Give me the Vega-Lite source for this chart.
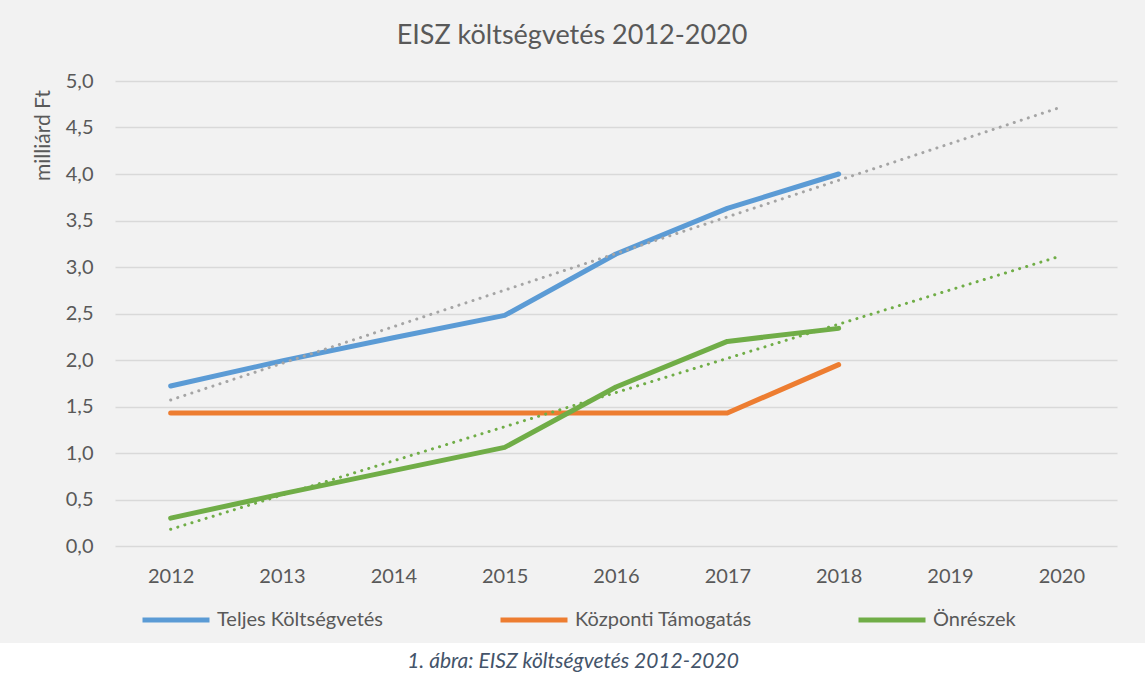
{
  "$schema": "https://vega.github.io/schema/vega-lite/v6.json",
  "background": "#f2f2f2",
  "autosize": {"type": "none"},
  "padding": {"left": 115, "right": 28, "top": 81, "bottom": 131},
  "width": 1002,
  "height": 465,
  "title": {"text": "EISZ költségvetés 2012-2020", "fontSize": 27, "font": "Lato", "fontWeight": "normal", "color": "#595959", "anchor": "middle", "offset": 21, "dx": -44},
  "config": {"view": {"stroke": null}, "font": "Lato"},
  "datasets": {
    "main": [
      {"year": "2012", "series": "Teljes Költségvetés", "value": 1.72},
      {"year": "2013", "series": "Teljes Költségvetés", "value": 1.99},
      {"year": "2014", "series": "Teljes Költségvetés", "value": 2.24},
      {"year": "2015", "series": "Teljes Költségvetés", "value": 2.48},
      {"year": "2016", "series": "Teljes Költségvetés", "value": 3.14},
      {"year": "2017", "series": "Teljes Költségvetés", "value": 3.63},
      {"year": "2018", "series": "Teljes Költségvetés", "value": 4.0},
      {"year": "2012", "series": "Központi Támogatás", "value": 1.43},
      {"year": "2013", "series": "Központi Támogatás", "value": 1.43},
      {"year": "2014", "series": "Központi Támogatás", "value": 1.43},
      {"year": "2015", "series": "Központi Támogatás", "value": 1.43},
      {"year": "2016", "series": "Központi Támogatás", "value": 1.43},
      {"year": "2017", "series": "Központi Támogatás", "value": 1.43},
      {"year": "2018", "series": "Központi Támogatás", "value": 1.95},
      {"year": "2012", "series": "Önrészek", "value": 0.3},
      {"year": "2013", "series": "Önrészek", "value": 0.56},
      {"year": "2014", "series": "Önrészek", "value": 0.81},
      {"year": "2015", "series": "Önrészek", "value": 1.06},
      {"year": "2016", "series": "Önrészek", "value": 1.71},
      {"year": "2017", "series": "Önrészek", "value": 2.2},
      {"year": "2018", "series": "Önrészek", "value": 2.34}
    ],
    "trend": [
      {"year": "2012", "trend": "Teljes trend", "value": 1.57},
      {"year": "2020", "trend": "Teljes trend", "value": 4.72},
      {"year": "2012", "trend": "Önrészek trend", "value": 0.18},
      {"year": "2020", "trend": "Önrészek trend", "value": 3.12}
    ]
  },
  "layer": [
    {
      "data": {"name": "main"},
      "mark": {"type": "line", "strokeWidth": 5, "strokeCap": "round", "strokeJoin": "round"},
      "encoding": {
        "x": {"field": "year", "type": "ordinal",
          "scale": {"type": "point", "padding": 0.5, "domain": ["2012","2013","2014","2015","2016","2017","2018","2019","2020"]},
          "axis": {"title": null, "labelAngle": 0, "labelFontSize": 20, "labelColor": "#595959", "labelPadding": 20, "ticks": false, "domain": false, "grid": false}},
        "y": {"field": "value", "type": "quantitative",
          "scale": {"domain": [0, 5]},
          "axis": {"title": "milliárd Ft", "titleFontSize": 21, "titleFontWeight": "normal", "titleColor": "#595959", "titleAnchor": "middle", "titleY": 54, "titlePadding": 12,
            "values": [0, 0.5, 1, 1.5, 2, 2.5, 3, 3.5, 4, 4.5, 5],
            "labelExpr": "replace(format(datum.value, '.1f'), '.', ',')",
            "labelFontSize": 20, "labelColor": "#595959", "labelPadding": 22, "ticks": false, "domain": false,
            "gridColor": "#d9d9d9", "gridWidth": 1.5}},
        "color": {"field": "series", "type": "nominal",
          "scale": {"domain": ["Teljes Költségvetés", "Központi Támogatás", "Önrészek"], "range": ["#5b9bd5", "#ed7d31", "#70ad47"]},
          "legend": {"title": null, "orient": "none", "legendX": 25, "legendY": 503, "direction": "horizontal", "columns": 3, "gridAlign": "all", "columnPadding": 96, "padding": 0,
            "symbolType": "stroke", "symbolSize": 4489, "symbolStrokeWidth": 5, "labelFontSize": 20, "labelLimit": 300, "labelColor": "#595959", "labelFont": "Lato", "labelOffset": 5}}
      }
    },
    {
      "data": {"name": "trend"},
      "mark": {"type": "line", "strokeWidth": 3, "strokeCap": "round", "strokeDash": [0.1, 7.3]},
      "encoding": {
        "x": {"field": "year", "type": "ordinal"},
        "y": {"field": "value", "type": "quantitative"},
        "color": {"field": "trend", "type": "nominal",
          "scale": {"domain": ["Teljes trend", "Önrészek trend"], "range": ["#a5a5a5", "#70ad47"]},
          "legend": null}
      }
    },
    {
      "data": {"name": "main"},
      "mark": {"type": "text", "opacity": 0},
      "encoding": {
        "x": {"field": "year", "type": "ordinal"},
        "y": {"field": "value", "type": "quantitative"},
        "text": {"value": ""},
        "color": {"field": "value", "type": "quantitative",
          "scale": {"range": ["#ffffff", "#ffffff"]},
          "legend": {"title": "1. ábra: EISZ költségvetés 2012-2020", "orient": "none", "legendX": -115, "legendY": 562, "direction": "horizontal", "padding": 0,
            "gradientLength": 1145, "gradientThickness": 34, "gradientStrokeWidth": 0, "gradientOpacity": 1,
            "labelOpacity": 0, "labelFontSize": 1, "labelExpr": "''",
            "titleOrient": "bottom", "titlePadding": -29, "titleAnchor": "middle", "titleLimit": 1145,
            "titleFont": "Lato", "titleFontSize": 21, "titleFontStyle": "italic", "titleFontWeight": "normal", "titleColor": "#44546a"}}
      }
    }
  ],
  "resolve": {"scale": {"color": "independent"}, "legend": {"color": "independent"}}
}
